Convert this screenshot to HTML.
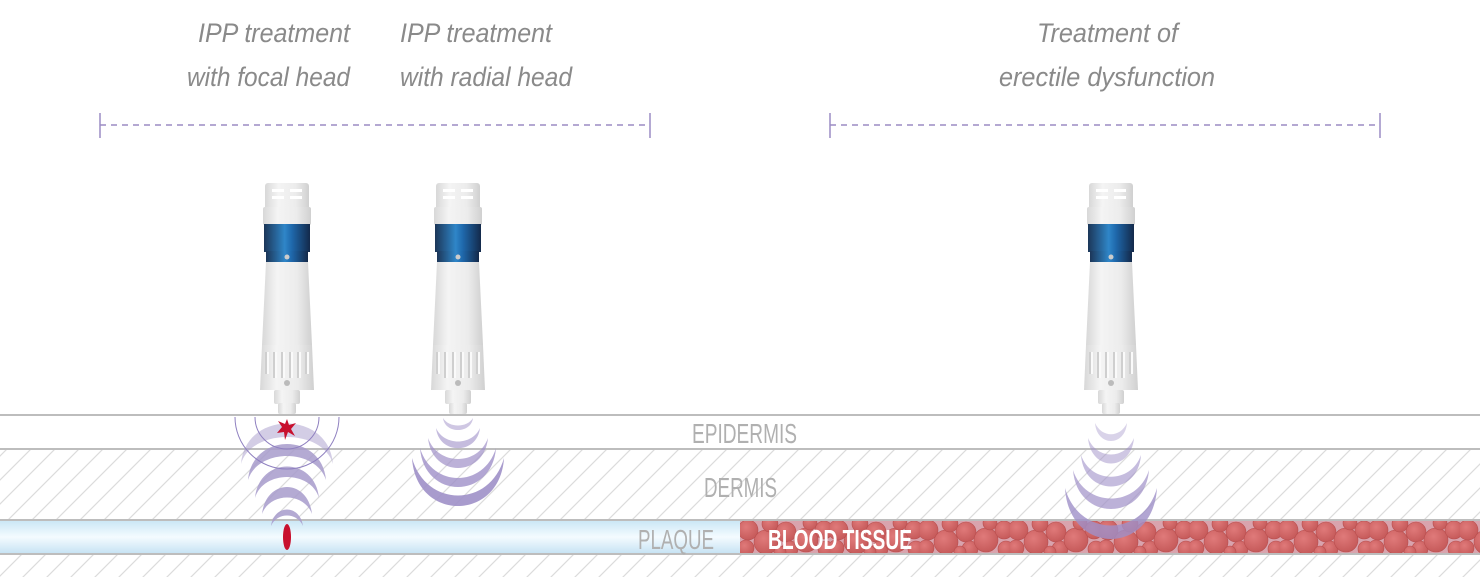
<!DOCTYPE html>
<html><head><meta charset="utf-8">
<style>
html,body{margin:0;padding:0;background:#fff;}
svg{display:block;}
.t{font-family:"Liberation Sans",sans-serif;font-style:italic;font-size:27px;fill:#8a8a8a;}
.l{font-family:"Liberation Sans",sans-serif;font-size:28px;fill:#b0b0b0;}
</style></head><body>
<svg width="1480" height="577" viewBox="0 0 1480 577" xmlns="http://www.w3.org/2000/svg">
<defs>
<pattern id="hatch" width="24" height="24" patternUnits="userSpaceOnUse">
<path d="M-6 30 L30 -6 M-30 30 L30 -30 M-6 54 L54 -6" stroke="#dcdcdc" stroke-width="1.2"/>
</pattern>
<linearGradient id="plq" x1="0" y1="0" x2="0" y2="1">
<stop offset="0" stop-color="#c9e6f5"/><stop offset="0.5" stop-color="#f4fbff"/><stop offset="1" stop-color="#c5e2f3"/>
</linearGradient>
<linearGradient id="blue" x1="0" y1="0" x2="1" y2="0">
<stop offset="0" stop-color="#1c3658"/><stop offset="0.45" stop-color="#2f86c8"/><stop offset="0.6" stop-color="#1f69ad"/><stop offset="1" stop-color="#13294a"/>
</linearGradient>
<linearGradient id="wh" x1="0" y1="0" x2="1" y2="0">
<stop offset="0" stop-color="#d8d8d8"/><stop offset="0.3" stop-color="#f4f4f4"/><stop offset="0.7" stop-color="#ececec"/><stop offset="1" stop-color="#d0d0d0"/>
</linearGradient>
<radialGradient id="cell" cx="0.4" cy="0.35" r="0.7">
<stop offset="0" stop-color="#e07a7a"/><stop offset="1" stop-color="#c45858"/>
</radialGradient>
<pattern id="cells" width="90" height="34" patternUnits="userSpaceOnUse" x="740" y="520">
<rect width="90" height="34" fill="#d9a3ad"/>
<g fill="url(#cell)" stroke="#b94d4d" stroke-width="0.6">
<circle cx="8" cy="10" r="10"/><circle cx="6" cy="28" r="8"/><circle cx="26" cy="22" r="12"/>
<circle cx="30" cy="4" r="8"/><circle cx="46" cy="12" r="10"/><circle cx="50" cy="29" r="8"/>
<circle cx="66" cy="20" r="12"/><circle cx="70" cy="3" r="7"/><circle cx="84" cy="10" r="9"/>
<circle cx="86" cy="29" r="8"/><circle cx="40" cy="32" r="6"/>
</g>
</pattern>
<g id="dev">
<rect x="-22" y="183" width="44" height="40" rx="3" fill="url(#wh)"/>
<rect x="-15" y="189" width="12" height="3" fill="#fff"/><rect x="3" y="189" width="12" height="3" fill="#fff"/>
<rect x="-15" y="196" width="12" height="3" fill="#fff"/><rect x="3" y="196" width="12" height="3" fill="#fff"/>
<rect x="-24" y="207" width="48" height="18" rx="2" fill="url(#wh)"/>
<rect x="-23" y="224" width="46" height="28" fill="url(#blue)"/>
<rect x="-21" y="251" width="42" height="11" fill="url(#blue)"/>
<circle cx="0" cy="257" r="2.5" fill="#ccc"/>
<path d="M-21 262 L21 262 L25 345 L-25 345 Z" fill="url(#wh)"/>
<path d="M-25 345 L25 345 L27 390 L-27 390 Z" fill="url(#wh)"/>
<path d="M-20 352 v22 M-12 352 v26 M-4 352 v26 M4 352 v26 M12 352 v26 M20 352 v22" stroke="#cfcfcf" stroke-width="4"/>
<path d="M-20 352 v22 M-12 352 v26 M-4 352 v26 M4 352 v26 M12 352 v26 M20 352 v22" stroke="#fafafa" stroke-width="2" transform="translate(1,0)"/>
<circle cx="0" cy="383" r="3" fill="#bbb"/>
<rect x="-13" y="390" width="26" height="14" rx="2" fill="url(#wh)"/>
<rect x="-9" y="403" width="18" height="11" rx="2" fill="url(#wh)"/>
</g>
</defs>

<rect x="0" y="449" width="1480" height="71" fill="url(#hatch)"/>
<rect x="0" y="554" width="1480" height="23" fill="url(#hatch)"/>
<rect x="0" y="520" width="740" height="34" fill="url(#plq)"/>
<rect x="740" y="520" width="740" height="34" fill="url(#cells)"/>
<g stroke="#bdbdbd" stroke-width="2">
<line x1="0" y1="415" x2="1480" y2="415"/><line x1="0" y1="449" x2="1480" y2="449"/>
<line x1="0" y1="520" x2="1480" y2="520"/><line x1="0" y1="554" x2="1480" y2="554"/>
</g>

<text class="l" x="692" y="443" textLength="105" lengthAdjust="spacingAndGlyphs">EPIDERMIS</text>
<text class="l" x="704" y="497" textLength="73" lengthAdjust="spacingAndGlyphs">DERMIS</text>
<text class="l" x="638" y="549" textLength="76" lengthAdjust="spacingAndGlyphs">PLAQUE</text>
<text x="768" y="549" textLength="144" lengthAdjust="spacingAndGlyphs" style="font-family:'Liberation Sans',sans-serif;font-weight:bold;font-size:28px;fill:#fff">BLOOD TISSUE</text>

<text class="t" x="198" y="42" textLength="152" lengthAdjust="spacingAndGlyphs">IPP treatment</text>
<text class="t" x="187" y="86" textLength="163" lengthAdjust="spacingAndGlyphs">with focal head</text>
<text class="t" x="400" y="42" textLength="152" lengthAdjust="spacingAndGlyphs">IPP treatment</text>
<text class="t" x="400" y="86" textLength="172" lengthAdjust="spacingAndGlyphs">with radial head</text>
<text class="t" x="1037" y="42" textLength="141" lengthAdjust="spacingAndGlyphs">Treatment of</text>
<text class="t" x="999" y="86" textLength="216" lengthAdjust="spacingAndGlyphs">erectile dysfunction</text>

<g stroke="#9b8cc4" stroke-width="1.5">
<line x1="100" y1="113" x2="100" y2="138"/><line x1="650" y1="113" x2="650" y2="138"/>
<line x1="100" y1="125" x2="650" y2="125" stroke-dasharray="6 5"/>
<line x1="830" y1="113" x2="830" y2="138"/><line x1="1380" y1="113" x2="1380" y2="138"/>
<line x1="830" y1="125" x2="1380" y2="125" stroke-dasharray="6 5"/>
</g>

<use href="#dev" x="287"/>
<use href="#dev" x="458"/>
<use href="#dev" x="1111"/>

<g fill="#a89ccc" opacity="0.85">
<path d="M241 464 C245 410 329 410 333 464 C323 428 251 428 241 464 Z" opacity="0.6"/>
<path d="M248 480 C252 432 322 432 326 480 C316 448 258 448 248 480 Z"/>
<path d="M255 498 C259 456 315 456 319 498 C311 470 263 470 255 498 Z"/>
<path d="M262 514 C266 478 308 478 312 514 C304 492 270 492 262 514 Z"/>
<path d="M271 526 C274 504 300 504 303 526 C297 512 277 512 271 526 Z"/>
</g>
<g fill="none" stroke="#8f80c0" stroke-width="1">
<path d="M235 417 A52 52 0 0 0 339 417"/>
<path d="M255 417 A32 32 0 0 0 319 417"/>
</g>
<path d="M287 419 L289 425 L296 423 L291 429 L295 436 L288 432 L285 440 L284 432 L277 433 L282 427 L278 421 L285 424 Z" fill="#c8102e"/>
<ellipse cx="287" cy="537" rx="4" ry="13" fill="#c8102e"/>

<g fill="#9f90c8">
<path d="M443 418 C445 434 471 434 473 418 C467 428 449 428 443 418 Z" opacity="0.5"/>
<path d="M436 428 C439 455 477 455 480 428 C472 446 444 446 436 428 Z" opacity="0.6"/>
<path d="M428 438 C432 478 484 478 488 438 C478 466 438 466 428 438 Z" opacity="0.7"/>
<path d="M420 448 C424 500 492 500 496 448 C484 488 432 488 420 448 Z" opacity="0.8"/>
<path d="M412 458 C416 522 500 522 504 458 C490 508 426 508 412 458 Z" opacity="0.9"/>
</g>
<g fill="#9f90c8">
<path d="M1095 423 C1097 447 1125 447 1127 423 C1120 438 1102 438 1095 423 Z" opacity="0.4"/>
<path d="M1088 438 C1091 472 1131 472 1134 438 C1125 460 1097 460 1088 438 Z" opacity="0.5"/>
<path d="M1081 455 C1084 497 1138 497 1141 455 C1131 484 1091 484 1081 455 Z" opacity="0.6"/>
<path d="M1073 470 C1077 522 1145 522 1149 470 C1137 508 1085 508 1073 470 Z" opacity="0.7"/>
<path d="M1065 488 C1069 556 1153 556 1157 488 C1143 538 1079 538 1065 488 Z" opacity="0.8"/>
</g>
</svg>
</body></html>
